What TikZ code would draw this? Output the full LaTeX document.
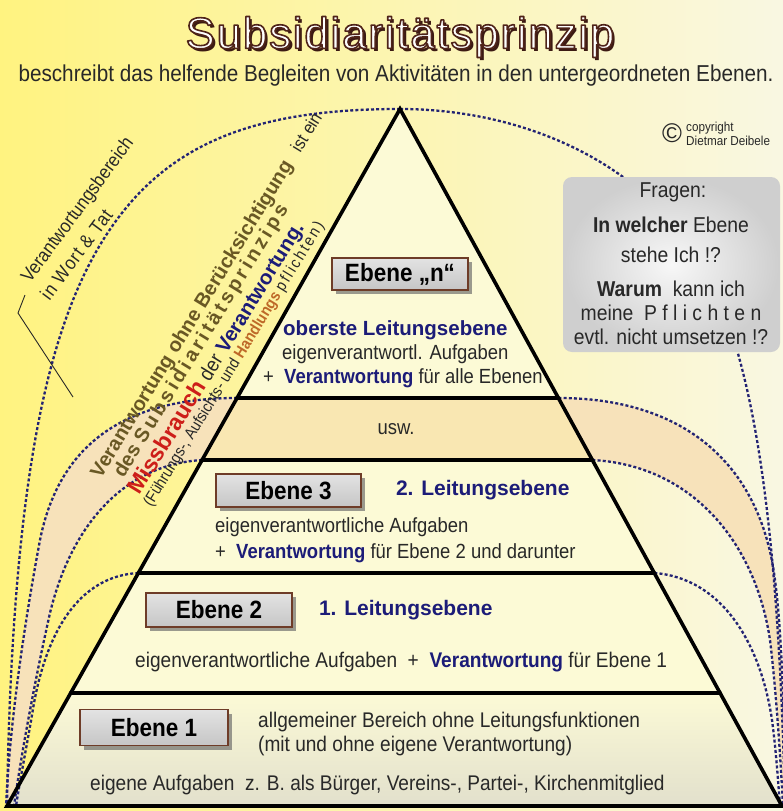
\documentclass[tikz,border=0pt]{standalone}
\usepackage{fontspec}
\setmainfont{Liberation Sans}
\newfontfamily\narrowfont[FakeStretch=0.9]{Liberation Sans}
\newfontfamily\titlefont[LetterSpace=4]{Liberation Sans}
\usetikzlibrary{calc, positioning, shadows}

\definecolor{bgleft}{RGB}{255,243,128}
\definecolor{bgmid}{RGB}{253,249,196}
\definecolor{bgright}{RGB}{249,247,226}
\definecolor{cream}{RGB}{252,250,214}
\definecolor{creamgray}{RGB}{226,224,204}
\definecolor{peach}{RGB}{249,231,178}
\definecolor{peachlight}{RGB}{247,226,186}
\definecolor{navy}{RGB}{28,28,120}
\definecolor{dashnavy}{RGB}{35,35,115}
\definecolor{boxbrown}{RGB}{110,60,40}
\definecolor{olivebrown}{RGB}{105,88,36}
\definecolor{missred}{RGB}{205,30,25}
\definecolor{handbrown}{RGB}{190,105,40}
\definecolor{titlebrown}{RGB}{80,35,25}
\definecolor{textgray}{RGB}{40,40,40}

\newcommand{\vw}{\textcolor{navy}{\bfseries Verantwortung}}
% testo contornato (riempimento bianco, bordo marrone)
\newcommand{\outlined}[1]{{\color{white}\special{pdf:literal direct 0.31 0.14 0.10 RG 2 Tr 1.6 w 1 j}#1\special{pdf:literal direct 0 Tr 0.4 w 0 j}}}

\begin{document}
\begin{tikzpicture}[x=1pt, y=-1pt,
    % Stili per le linee
    pyrline/.style={line width=3.6pt, line cap=round},
    dashcurve/.style={draw=dashnavy, line width=2.3pt, dash pattern=on 3pt off 2.2pt},
    % Stili per i box
    ebenebox/.style={draw=boxbrown, line width=1.6pt, top color=gray!22, bottom color=gray!45, text=black, inner sep=0pt,
        font={\narrowfont\bfseries\fontsize{25}{28}\selectfont},
        drop shadow={shadow xshift=4pt, shadow yshift=-4pt, fill=black!60, opacity=0.65}},
    fragebox/.style={rounded corners=9pt, inner color=gray!6, outer color=gray!38},
    % Stili per il testo
    heading/.style={anchor=west, inner sep=0pt, text=navy, font={\bfseries\fontsize{21}{24}\selectfont}},
    bodytext/.style={anchor=west, inner sep=0pt, text=textgray, font={\narrowfont\fontsize{20.5}{24}\selectfont}},
    basetext/.style={bodytext, font={\narrowfont\fontsize{21.2}{24}\selectfont}},
    fragetext/.style={inner sep=0pt, text=textgray, font={\narrowfont\fontsize{21.5}{25}\selectfont}},
    slanttext/.style={anchor=west, inner sep=0pt, rotate=58.5},
    titeltext/.style={inner sep=0pt, font={\titlefont\fontsize{44}{50}\selectfont}}
]
\useasboundingbox (0,0) rectangle (783,811);
\clip (0,0) rectangle (783,811);

% === SFONDO ===
\fill[left color=bgleft, middle color=bgmid, right color=bgright] (0,0) rectangle (783,811);

% === PUNTI DELLA PIRAMIDE ===
\coordinate (apex) at (400,109);
\coordinate (bl) at (7,806);
\coordinate (br) at (782,806);
\foreach \lev/\f in {n/0.4146, u/0.5036, d/0.6657, e/0.8379}{
    \coordinate (\lev-l) at ($(apex)!\f!(bl)$);
    \coordinate (\lev-r) at ($(apex)!\f!(br)$);
}

% === FASCE ESTERNE ===
\fill[peachlight] (n-l) .. controls (130,398) and (60,440) .. (40,540) .. controls (25,620) and (10,720) .. (6,806)
    -- (14,806) .. controls (22,750) and (35,680) .. (50,613) .. controls (70,530) and (120,465) .. (u-l) -- cycle;
\fill[peachlight] (n-r) .. controls (680,398) and (760,460) .. (775,580) .. controls (781,625) and (784,700) .. (786,806)
    -- (783,806) .. controls (780,750) and (776,690) .. (770,640) .. controls (755,540) and (690,465) .. (u-r) -- cycle;

% === RIEMPIMENTO PIRAMIDE ===
\fill[cream] (apex) -- (bl) -- (br) -- cycle;
\fill[top color=cream, bottom color=creamgray] (e-l) -- (bl) -- (br) -- (e-r) -- cycle;
\fill[peach] (n-l) -- (u-l) -- (u-r) -- (n-r) -- cycle;

% === CURVE TRATTEGGIATE ===
\draw[dashcurve] (apex) .. controls (250,109) and (160,145) .. (100,245) .. controls (48,332) and (12,480) .. (7,806);
\draw[dashcurve] (apex) .. controls (520,109) and (640,160) .. (700,260) .. controls (750,345) and (778,500) .. (785,806);
\draw[dashcurve] (n-l) .. controls (130,398) and (60,440) .. (40,540) .. controls (25,620) and (10,720) .. (6,806);
\draw[dashcurve] (u-l) .. controls (120,465) and (70,530) .. (50,613) .. controls (35,680) and (22,750) .. (14,806);
\draw[dashcurve] (d-l) .. controls (80,576) and (45,630) .. (32,715) .. controls (26,750) and (20,780) .. (16,806);
\draw[dashcurve] (n-r) .. controls (680,398) and (760,460) .. (775,580) .. controls (781,625) and (784,700) .. (786,806);
\draw[dashcurve] (u-r) .. controls (690,465) and (755,540) .. (770,640) .. controls (776,690) and (780,750) .. (783,806);
\draw[dashcurve] (d-r) .. controls (720,578) and (760,640) .. (772,720) .. controls (776,750) and (778,780) .. (780,806);

% === PIRAMIDE ===
\draw[pyrline, line join=miter] (apex) -- (bl) -- (br) -- cycle;
\foreach \lev in {n,u,d,e}
    \draw[pyrline] (\lev-l) -- (\lev-r);

% === EBENE n ===
\node[ebenebox, minimum width=136pt, minimum height=32pt] (ebene-n) at (400,274) {Ebene „n“};
\node[heading, font={\bfseries\fontsize{20.5}{24}\selectfont}] (leitung-n) at (283,330) {oberste Leitungsebene};
\node[bodytext] (aufg-n) at (282,354) {eigenverantwortl. Aufgaben};
\node[bodytext] (verant-n) at (263,378) {+\ \ \vw\ für alle Ebenen};

% === USW ===
\node[bodytext, anchor=center] (usw) at (396,429) {usw.};

% === EBENE 3 ===
\node[ebenebox, minimum width=145pt, minimum height=33pt] (ebene-3) at (288.5,490.5) {Ebene 3};
\node[heading, right=34pt of ebene-3] (leitung-3) {2. Leitungsebene};
\node[bodytext] (aufg-3) at (215,527) {eigenverantwortliche Aufgaben};
\node[bodytext] (verant-3) at (215,553) {+\ \ \vw\ für Ebene 2 und darunter};

% === EBENE 2 ===
\node[ebenebox, minimum width=146pt, minimum height=34pt] (ebene-2) at (219,610) {Ebene 2};
\node[heading, right=26pt of ebene-2] (leitung-2) {1. Leitungsebene};
\node[basetext] (aufg-2) at (135,662) {eigenverantwortliche Aufgaben\ \ +\ \ \vw\ für Ebene 1};

% === EBENE 1 ===
\node[ebenebox, minimum width=148pt, minimum height=36pt] (ebene-1) at (154,727.5) {Ebene 1};
\node[basetext] (bereich-1) at (258,722) {allgemeiner Bereich ohne Leitungsfunktionen};
\node[basetext] (mit-1) at (258,746) {(mit und ohne eigene Verantwortung)};
\node[basetext] (aufg-1) at (90,785) {eigene Aufgaben\ \ z. B. als Bürger, Vereins-, Partei-, Kirchenmitglied};

% === TESTO OBLIQUO ===
\node[slanttext, rotate=-5, font={\narrowfont\fontsize{19}{21}\selectfont}, text=textgray] (bereich-a) at (26,281) {Verantwortungsbereich};
\node[slanttext, rotate=-5, font={\narrowfont\fontsize{19}{21}\selectfont\addfontfeature{LetterSpace=6}}, text=textgray] (bereich-b) at (44,298) {in Wort \& Tat};
\draw[line width=0.9pt, textgray] (25,295) -- (18,313) -- (73,397);

\node[slanttext, font={\bfseries\fontsize{20}{22}\selectfont}, text=olivebrown] (hinweis-1) at (96.5,476.5)
    {Verantwortung ohne Berücksichtigung\hspace{14pt}{\mdseries\narrowfont\fontsize{18}{20}\selectfont\color{textgray}ist ein}};
\node[slanttext, font={\bfseries\fontsize{20}{22}\selectfont}, text=olivebrown] (hinweis-2) at (119,476)
    {des {\addfontfeature{LetterSpace=16}Subsidiaritätsprinzips}};
\node[slanttext, font={\bfseries\fontsize{20.5}{22}\selectfont}] (hinweis-3) at (134.6,492.8)
    {\textcolor{missred}{\fontsize{23}{24}\selectfont Missbrauch} {\mdseries\narrowfont\color{textgray}der} \textcolor{navy}{Verantwortung.}};
\node[slanttext, font={\narrowfont\fontsize{16}{18}\selectfont}, text=textgray] (hinweis-4) at (148,505.6)
    {(Führungs-, Aufsichts- und \textcolor{handbrown}{\bfseries Handlungs} {\addfontfeature{LetterSpace=14}pflichten)}};

% === BOX DOMANDE ===
\node[fragebox, minimum width=217pt, minimum height=175pt] (fragen) at (671.5,264.5) {};
\node[fragetext] (frage-1) at (673,192) {Fragen:};
\node[fragetext] (frage-2) at (671,225) {\textbf{In welcher} Ebene};
\node[fragetext] (frage-3) at (671,255) {stehe Ich !?};
\node[fragetext] (frage-4) at (671,289) {\textbf{Warum}\ \ kann ich};
\node[fragetext] (frage-5) at (671,313) {meine\ \ {\addfontfeature{LetterSpace=25}Pflichten}};
\node[fragetext] (frage-6) at (671,337) {evtl. nicht umsetzen !?};

% === COPYRIGHT ===
\node[inner sep=0pt, font=\fontsize{27}{27}\selectfont, text=textgray] (copy-sym) at (672,133) {©};
\node[anchor=west, inner sep=0pt, align=left, text=textgray, font={\narrowfont\fontsize{13}{13.5}\selectfont}] (copy-text) at (686,134) {copyright\\Dietmar Deibele};

% === TITOLO ===
\node[titeltext, text=titlebrown!75!black] (titel-schatten) at (403,40) {Subsidiaritätsprinzip};
\node[titeltext] (titel) at (400,37) {\outlined{Subsidiaritätsprinzip}};
\node[inner sep=0pt, text=textgray, font={\narrowfont\fontsize{23}{26}\selectfont}] (untertitel) at (396,76)
    {beschreibt das helfende Begleiten von Aktivitäten in den untergeordneten Ebenen.};

\end{tikzpicture}
\end{document}
